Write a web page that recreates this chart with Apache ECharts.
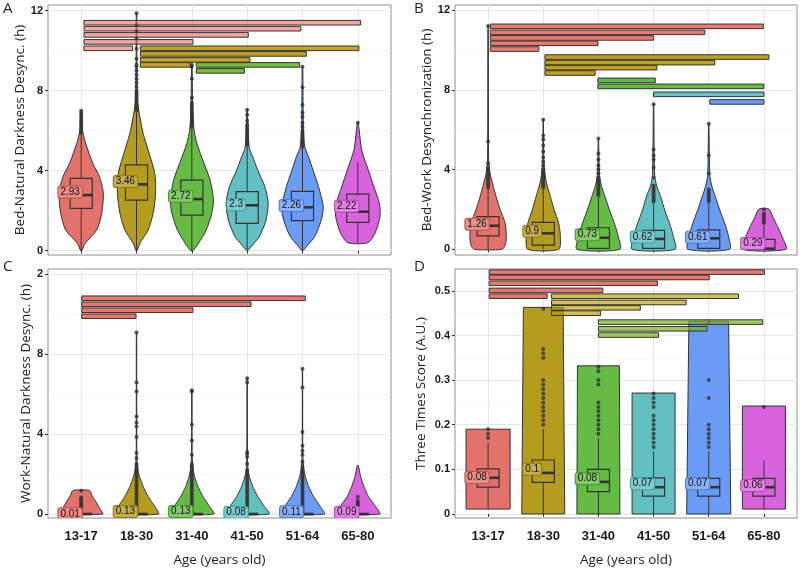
<!DOCTYPE html>
<html>
<head>
<meta charset="utf-8">
<script src="https://cdn.jsdelivr.net/npm/echarts@6.0.0/dist/echarts.min.js"></script>
<style>
html, body { margin: 0; padding: 0; background: #fff; }
#chart { width: 800px; height: 573px; }
</style>
</head>
<body>
<div id="chart"></div>
<script>
const ages = ['13-17', '18-30', '31-40', '41-50', '51-64', '65-80']

// y ticks
const yTicks = [0, 4, 8, 12]
const yMinor = [2, 6, 10]
const yTickLabelsA = ['0', '4', '8', '12']
const yTickLabelsC = ['0', '4', '8', '2']
const yTicksD = [0, 0.1, 0.2, 0.3, 0.4, 0.5]
const yMinorD = [0.05, 0.15, 0.25, 0.35, 0.45]
const yTickLabelsD = ['0', '0.1', '0.2', '0.3', '0.4', '0.5']

// ---- A: Bed-Natural Darkness ----
const meanA = [2.93, 3.46, 2.72, 2.3, 2.26, 2.22]
// lower whisker, q1, median, q3, upper whisker
const boxA = [
  [0, 2.12, 2.78, 3.62, 5.87],
  [0, 2.53, 3.32, 4.29, 6.9],
  [0, 1.78, 2.58, 3.53, 6.15],
  [0, 1.37, 2.27, 2.95, 5.3],
  [0, 1.5, 2.17, 2.97, 5.2],
  [0.37, 1.42, 1.95, 2.83, 4.42]
]
const outA = [
  [5.9, 6.0, 6.1, 6.2, 6.3, 6.4, 6.5, 6.6, 6.7, 6.8, 6.9, 7.0],
  [7.0, 7.1, 7.2, 7.3, 7.4, 7.5, 7.6, 7.7, 7.8, 7.9, 8.0, 8.2, 8.4, 8.6, 8.8, 9.0, 9.2, 9.3, 9.6, 10.1, 10.6, 11.0, 11.3, 11.87],
  [6.2, 6.3, 6.4, 6.5, 6.6, 6.7, 6.8, 6.9, 7.0, 7.1, 7.2, 7.3, 7.4, 7.65, 8.6, 9.2, 9.3],
  [5.3, 5.4, 5.5, 5.6, 5.7, 5.8, 5.9, 6.0, 6.1, 6.2, 6.3, 6.5, 6.8, 7.05],
  [5.2, 5.3, 5.4, 5.5, 5.6, 5.7, 5.8, 5.9, 6.0, 6.2, 6.4, 6.7, 6.9, 7.3, 8.17, 9.2],
  [6.4]
]
// violin outline: [value, half width]
const violinA = [
  [[0, 0.01], [0.37, 0.07], [1.03, 0.28], [1.87, 0.37], [2.87, 0.4], [3.7, 0.33], [4.37, 0.21], [5.37, 0.08], [6.0, 0.025], [7.0, 0.006]],
  [[0, 0.01], [0.37, 0.06], [1.03, 0.21], [1.87, 0.3], [2.87, 0.345], [3.87, 0.33], [5.03, 0.21], [5.87, 0.12], [6.87, 0.05], [7.5, 0.02], [9, 0.008], [11.87, 0.004]],
  [[0, 0.02], [0.37, 0.12], [1.03, 0.26], [1.87, 0.36], [2.53, 0.39], [3.53, 0.33], [4.37, 0.22], [5.37, 0.09], [6.03, 0.04], [7, 0.015], [9.3, 0.005]],
  [[0, 0.01], [0.3, 0.1], [0.7, 0.22], [1.53, 0.34], [2.37, 0.38], [3.2, 0.32], [4.03, 0.19], [4.7, 0.1], [5.12, 0.04], [6, 0.015], [7.05, 0.005]],
  [[0, 0.01], [0.3, 0.1], [0.7, 0.22], [1.53, 0.34], [2.2, 0.375], [3.2, 0.29], [4.03, 0.19], [4.7, 0.11], [5.2, 0.04], [6.2, 0.015], [9.2, 0.005]],
  [[0.4, 0.18], [0.87, 0.31], [1.7, 0.4], [2.37, 0.39], [3.2, 0.29], [4.03, 0.19], [5.03, 0.07], [6.03, 0.025], [6.4, 0.005]]
]
// significance bars: [from, to, value, group]
const sigA = [
  [1.05, 6.05, 11.4, 0], [1.05, 4.97, 11.1, 0], [1.05, 4.02, 10.79, 0], [1.05, 3.02, 10.44, 0], [1.05, 1.93, 10.12, 0],
  [2.07, 6.02, 10.12, 1], [2.07, 5.07, 9.84, 1], [2.07, 4.05, 9.54, 1], [2.07, 2.97, 9.29, 1],
  [3.08, 4.95, 9.29, 2], [3.08, 3.95, 8.99, 2]
]

// ---- B: Bed-Work ----
const meanB = [1.26, 0.9, 0.73, 0.62, 0.61, 0.29]
const boxB = [
  [0, 0.67, 1.18, 1.64, 3.05],
  [0, 0.21, 0.8, 1.35, 3.0],
  [0, 0.05, 0.58, 1.08, 2.6],
  [0, 0.05, 0.52, 0.95, 2.3],
  [0, 0.05, 0.55, 0.97, 2.3],
  [0, 0, 0.03, 0.5, 1.2]
]
const outB = [
  [3.1, 3.2, 3.3, 3.4, 3.5, 3.6, 3.7, 3.8, 3.9, 4.0, 4.1, 4.3, 5.4, 11.2],
  [3.1, 3.2, 3.3, 3.4, 3.5, 3.6, 3.7, 3.8, 3.9, 4.0, 4.2, 4.4, 4.6, 4.9, 5.2, 5.5, 5.7, 6.5],
  [2.7, 2.8, 2.9, 3.0, 3.1, 3.2, 3.3, 3.4, 3.5, 3.6, 3.8, 4.0, 4.2, 4.5, 4.8, 5.55],
  [2.4, 2.5, 2.6, 2.7, 2.8, 2.9, 3.0, 3.1, 3.2, 3.6, 4.1, 4.5, 4.7, 5.0, 7.27],
  [2.4, 2.5, 2.6, 2.7, 2.8, 2.9, 3.0, 3.8, 4.7, 6.3],
  [1.3, 1.4, 1.5, 1.6, 1.7, 1.8, 2.0]
]
const violinB = [
  [[0, 0.25], [0.2, 0.31], [0.63, 0.33], [1.3, 0.31], [1.97, 0.22], [2.64, 0.145], [3.31, 0.08], [3.81, 0.036], [4.5, 0.01], [11.2, 0.003]],
  [[0, 0.28], [0.63, 0.31], [1.3, 0.28], [1.97, 0.2], [2.64, 0.13], [3.31, 0.06], [3.81, 0.03], [4.5, 0.01], [6.5, 0.003]],
  [[0, 0.39], [0.63, 0.36], [1.3, 0.29], [1.97, 0.2], [2.64, 0.12], [3.14, 0.06], [3.7, 0.02], [5.5, 0.003]],
  [[0, 0.39], [0.63, 0.36], [1.3, 0.29], [1.97, 0.2], [2.64, 0.13], [3.14, 0.06], [3.7, 0.02], [7.25, 0.003]],
  [[0, 0.38], [0.63, 0.36], [1.3, 0.29], [1.97, 0.2], [2.64, 0.12], [3.14, 0.06], [3.7, 0.02], [6.3, 0.003]],
  [[0, 0.4], [0.63, 0.33], [1.13, 0.25], [1.63, 0.16], [2.02, 0.09]]
]
const sigB = [
  [1.04, 5.99, 11.18, 0], [1.04, 4.93, 10.88, 0], [1.04, 4.0, 10.6, 0], [1.04, 2.99, 10.33, 0], [1.04, 1.92, 10.04, 0],
  [2.03, 6.09, 9.64, 1], [2.03, 5.11, 9.36, 1], [2.03, 4.06, 9.11, 1], [2.03, 2.94, 8.84, 1],
  [2.99, 4.03, 8.47, 2], [2.99, 6.0, 8.17, 2],
  [4.0, 6.0, 7.77, 3],
  [5.02, 6.0, 7.39, 4]
]

// ---- C: Work-Natural Darkness ----
const meanC = [0.01, 0.13, 0.13, 0.08, 0.11, 0.09]
const boxC = [
  [0, 0, 0, 0, 0], [0, 0, 0, 0, 0], [0, 0, 0, 0, 0],
  [0, 0, 0, 0, 0], [0, 0, 0, 0, 0], [0, 0, 0, 0, 0]
]
const outC = [
  [0.25, 0.33, 0.42, 0.5, 0.58, 0.67, 0.75, 0.83, 1.17],
  [0.1, 0.2, 0.3, 0.4, 0.5, 0.6, 0.7, 0.8, 0.9, 1.0, 1.1, 1.2, 1.3, 1.4, 1.5, 1.6, 1.7, 1.8, 1.9, 2.0, 2.1, 2.2, 2.3, 2.4, 2.5, 2.8, 3.05, 3.85, 4.38, 4.58, 4.88, 6.13, 6.58, 9.08],
  [0.1, 0.2, 0.3, 0.4, 0.5, 0.6, 0.7, 0.8, 0.9, 1.0, 1.1, 1.2, 1.3, 1.4, 1.5, 1.6, 1.7, 1.8, 1.9, 2.0, 2.1, 2.2, 2.3, 2.4, 2.5, 2.97, 3.68, 4.47, 6.13, 6.2],
  [0.1, 0.2, 0.3, 0.4, 0.5, 0.6, 0.7, 0.8, 0.9, 1.0, 1.1, 1.2, 1.3, 1.4, 1.5, 1.6, 1.7, 1.8, 1.9, 2.0, 2.1, 2.2, 2.5, 2.85, 3.0, 3.1, 6.58, 6.8],
  [0.1, 0.2, 0.3, 0.4, 0.5, 0.6, 0.7, 0.8, 0.9, 1.0, 1.1, 1.2, 1.3, 1.4, 1.5, 1.6, 1.7, 1.8, 1.9, 2.0, 2.1, 2.2, 2.3, 2.4, 2.6, 2.97, 3.17, 3.42, 4.1, 6.33, 7.27],
  [0.42, 0.5, 0.58, 0.67, 0.87]
]
const violinC = [
  [[0, 0.39], [0.3, 0.33], [0.55, 0.28], [0.9, 0.2], [1.18, 0.15]],
  [[0, 0.4], [0.38, 0.33], [0.88, 0.21], [1.38, 0.12], [1.88, 0.055], [2.3, 0.02], [3, 0.005], [9.08, 0.003]],
  [[0, 0.4], [0.38, 0.32], [0.88, 0.2], [1.38, 0.11], [1.88, 0.05], [2.3, 0.02], [3, 0.005], [6.2, 0.003]],
  [[0, 0.4], [0.38, 0.31], [0.88, 0.19], [1.38, 0.1], [1.88, 0.04], [2.2, 0.015], [3, 0.005], [6.8, 0.003]],
  [[0, 0.4], [0.38, 0.32], [0.88, 0.2], [1.38, 0.11], [1.88, 0.05], [2.3, 0.02], [3, 0.005], [7.27, 0.003]],
  [[0, 0.4], [0.38, 0.32], [0.88, 0.19], [1.38, 0.11], [1.88, 0.05], [2.43, 0.01]]
]
const sigC = [
  [1.01, 5.05, 10.8, 0], [1.01, 4.07, 10.5, 0], [1.01, 3.02, 10.2, 0], [1.01, 1.99, 9.9, 0]
]

// ---- D: Three Times Score ----
const meanD = [0.082, 0.1, 0.079, 0.068, 0.068, 0.064]
const boxD = [
  [0.01, 0.06, 0.081, 0.101, 0.16],
  [0, 0.071, 0.092, 0.121, 0.19],
  [0, 0.05, 0.072, 0.1, 0.17],
  [0, 0.04, 0.06, 0.081, 0.14],
  [0, 0.04, 0.06, 0.08, 0.14],
  [0.01, 0.04, 0.06, 0.08, 0.12]
]
const outD = [
  [0.17, 0.18, 0.19],
  [0.2, 0.21, 0.22, 0.23, 0.24, 0.25, 0.26, 0.27, 0.28, 0.29, 0.3, 0.35, 0.36, 0.37, 0.46],
  [0.18, 0.19, 0.2, 0.21, 0.22, 0.23, 0.24, 0.25, 0.29, 0.3, 0.32, 0.33],
  [0.15, 0.16, 0.17, 0.18, 0.19, 0.2, 0.21, 0.22, 0.24, 0.25, 0.26, 0.27],
  [0.15, 0.16, 0.17, 0.18, 0.19, 0.2, 0.26, 0.3, 0.43],
  [0.24]
]
const violinD = [
  [[0.011, 0.4], [0.19, 0.4]],
  [[0, 0.39], [0.463, 0.36]],
  [[0, 0.39], [0.332, 0.38]],
  [[0, 0.39], [0.271, 0.39]],
  [[0, 0.4], [0.432, 0.36]],
  [[0.011, 0.39], [0.242, 0.39]]
]
const sigD = [
  [1.02, 6.01, 0.542, 0], [1.02, 5.01, 0.53, 0], [1.02, 4.07, 0.517, 0], [1.02, 3.08, 0.501, 0], [1.02, 2.07, 0.488, 0],
  [2.15, 5.54, 0.488, 1], [2.15, 4.59, 0.474, 1], [2.15, 3.76, 0.462, 1], [2.15, 3.04, 0.45, 1],
  [3.0, 5.98, 0.43, 2], [3.0, 4.97, 0.415, 2], [3.0, 4.09, 0.401, 2]
]

// ---- styles ----
const palette = ['#E3736A', '#B49C1E', '#66BB45', '#62BFC2', '#6B9CF5', '#D863DC']
const labelFill = ['#EA8D86', '#C4AE4A', '#84C86A', '#80CBCD', '#88B0F7', '#E083E3']
const labelBorder = ['#B8564F', '#8E7A10', '#3E9A2A', '#3A9EA2', '#4A7BD6', '#B048B4']
const sigFillA = ['rgba(232,110,100,0.6)', '#C2A527', '#74BE3A']
const sigFillB = ['#EA7A70', '#BFA020', '#62BB45', '#64C2C8', '#6A9DF7']
const sigFillC = ['#E8776E']
const sigFillD = ['#E8776E', 'rgba(183,159,0,0.65)', 'rgba(120,180,30,0.7)']
const dark = '#333'
const tickFont = 'Liberation Sans, Arial, sans-serif'
const titleFont = 'Open Sans, sans-serif'

const panels = [
  { letter: 'A', grid: { left: 48, top: 5, width: 343, height: 250 }, yMin: -0.215, yMax: 12.285,
    ticks: yTicks, minor: yMinor, tickLabels: yTickLabelsA, yName: 'Bed-Natural Darkness Desync. (h)', nameGap: 10,
    mean: meanA, box: boxA, out: outA, violin: violinA, smooth: 0.25, sig: sigA, sigFill: sigFillA, xLabels: false, letterPos: [3, 1] },
  { letter: 'B', grid: { left: 455, top: 5, width: 342, height: 250 }, yMin: -0.286, yMax: 12.25,
    ticks: yTicks, minor: yMinor, tickLabels: yTickLabelsA, yName: 'Bed-Work Desynchronization (h)', nameGap: 20,
    mean: meanB, box: boxB, out: outB, violin: violinB, smooth: 0.25, sig: sigB, sigFill: sigFillB, xLabels: false, letterPos: [414, 1] },
  { letter: 'C', grid: { left: 48, top: 269, width: 343, height: 249 }, yMin: -0.2, yMax: 12.265,
    ticks: yTicks, minor: yMinor, tickLabels: yTickLabelsC, yName: 'Work-Natural Darkness Desync. (h)', nameGap: 10,
    mean: meanC, box: boxC, out: outC, violin: violinC, smooth: 0.2, sig: sigC, sigFill: sigFillC, xLabels: true, letterPos: [3, 259] },
  { letter: 'D', grid: { left: 455, top: 269, width: 342, height: 249 }, yMin: -0.009, yMax: 0.549,
    ticks: yTicksD, minor: yMinorD, tickLabels: yTickLabelsD, yName: 'Three Times Score (A.U.)', nameGap: 27,
    mean: meanD, box: boxD, out: outD, violin: violinD, smooth: 0, sig: sigD, sigFill: sigFillD, xLabels: true, letterPos: [414, 259] }
]

const catPos = ages.map((a, k) => k + 1)
const fmt = v => String(Number(v.toFixed(2)))

const grids = []
const xAxes = []
const yAxes = []
const series = []
const graphics = []

panels.forEach((p, i) => {
  grids.push(Object.assign({ show: true, borderColor: '#8f8f8f', borderWidth: 1, outerBoundsMode: 'none' }, p.grid))
  xAxes.push({
    gridIndex: i,
    type: 'value',
    min: 0.4,
    max: 6.6,
    axisLine: { show: false },
    axisTick: { show: true, length: 3, customValues: catPos, lineStyle: { color: dark } },
    axisLabel: {
      show: p.xLabels,
      customValues: catPos,
      formatter: v => ages[Math.round(v) - 1],
      fontFamily: tickFont,
      fontSize: 13,
      fontWeight: 'bold',
      color: '#1a1a1a',
      margin: 12
    },
    splitLine: { show: true, lineStyle: { color: '#E6E6E6', width: 1 } },
    name: p.xLabels ? 'Age (years old)' : '',
    nameLocation: 'middle',
    nameGap: 35,
    nameTextStyle: { fontFamily: titleFont, fontSize: 13.5, color: '#222' }
  })
  yAxes.push({
    gridIndex: i,
    type: 'value',
    min: p.yMin,
    max: p.yMax,
    axisLine: { show: false },
    axisTick: { show: true, length: 3, customValues: p.ticks, lineStyle: { color: dark } },
    axisLabel: {
      customValues: p.ticks,
      formatter: v => p.tickLabels[p.ticks.findIndex(t => Math.abs(t - v) < 1e-9)],
      fontFamily: tickFont,
      fontSize: 11,
      fontWeight: 'bold',
      color: '#1a1a1a',
      margin: 5
    },
    splitLine: { show: true, lineStyle: { color: '#E6E6E6', width: 1 } },
    name: p.yName,
    nameLocation: 'middle',
    nameGap: p.nameGap,
    nameTextStyle: { fontFamily: titleFont, fontSize: 13.5, color: '#222' }
  })
  // minor grid lines
  yAxes.push({
    gridIndex: i,
    type: 'value',
    position: 'left',
    min: p.yMin,
    max: p.yMax,
    axisLine: { show: false },
    axisTick: { show: false, customValues: p.minor },
    axisLabel: { show: false, customValues: p.minor },
    splitLine: { show: true, lineStyle: { color: '#F3F3F3', width: 0.6 } }
  })

  const yIdx = 2 * i
  const groups = ages.map((a, k) => [k + 1])

  // violins
  series.push({
    type: 'custom',
    xAxisIndex: i,
    yAxisIndex: yIdx,
    silent: true,
    clip: true,
    z: 2,
    data: groups,
    renderItem: (params, api) => {
      const k = params.dataIndex
      const prof = p.violin[k]
      const left = prof.map(d => api.coord([k + 1 - d[1], d[0]]))
      const right = prof.slice().reverse().map(d => api.coord([k + 1 + d[1], d[0]]))
      return {
        type: 'polygon',
        shape: { points: left.concat(right), smooth: p.smooth },
        style: { fill: palette[k], stroke: dark, lineWidth: 1 }
      }
    }
  })

  // boxplots
  series.push({
    type: 'custom',
    xAxisIndex: i,
    yAxisIndex: yIdx,
    silent: true,
    clip: true,
    z: 3,
    data: groups,
    renderItem: (params, api) => {
      const k = params.dataIndex
      const b = p.box[k]
      const x = k + 1
      const lo = api.coord([x, b[0]])
      const q1 = api.coord([x, b[1]])
      const q3 = api.coord([x, b[3]])
      const hi = api.coord([x, b[4]])
      const tl = api.coord([x - 0.2, b[3]])
      const br = api.coord([x + 0.2, b[1]])
      const ml = api.coord([x - 0.2, b[2]])
      const mr = api.coord([x + 0.2, b[2]])
      return {
        type: 'group',
        children: [
          { type: 'line', shape: { x1: lo[0], y1: lo[1], x2: q1[0], y2: q1[1] }, style: { stroke: dark, lineWidth: 1 } },
          { type: 'line', shape: { x1: q3[0], y1: q3[1], x2: hi[0], y2: hi[1] }, style: { stroke: dark, lineWidth: 1 } },
          { type: 'rect', shape: { x: tl[0], y: tl[1], width: br[0] - tl[0], height: br[1] - tl[1] }, style: { fill: 'none', stroke: dark, lineWidth: 1.2 } },
          { type: 'line', shape: { x1: ml[0], y1: ml[1], x2: mr[0], y2: mr[1] }, style: { stroke: dark, lineWidth: 2.6 } }
        ]
      }
    }
  })

  // outliers
  series.push({
    type: 'scatter',
    xAxisIndex: i,
    yAxisIndex: yIdx,
    silent: true,
    z: 4,
    symbolSize: 4,
    itemStyle: { color: dark },
    data: p.out.flatMap((arr, k) => arr.map(v => [k + 1, v]))
  })

  // mean labels
  series.push({
    type: 'custom',
    xAxisIndex: i,
    yAxisIndex: yIdx,
    silent: true,
    clip: true,
    z: 5,
    data: groups,
    renderItem: (params, api) => {
      const k = params.dataIndex
      const c = api.coord([k + 1 - 0.2, p.mean[k]])
      return {
        type: 'text',
        x: c[0],
        y: c[1],
        style: {
          text: fmt(p.mean[k]),
          align: 'center',
          verticalAlign: 'middle',
          fontFamily: tickFont,
          fontSize: 10,
          fill: '#111',
          backgroundColor: labelFill[k],
          borderColor: labelBorder[k],
          borderWidth: 1,
          borderRadius: 2,
          padding: [1, 2, 0, 2]
        }
      }
    }
  })

  // significance bars
  series.push({
    type: 'custom',
    xAxisIndex: i,
    yAxisIndex: yIdx,
    silent: true,
    z: 6,
    data: p.sig.map(s => [s[0], s[2]]),
    renderItem: (params, api) => {
      const s = p.sig[params.dataIndex]
      const a = api.coord([s[0], s[2]])
      const b = api.coord([s[1], s[2]])
      return {
        type: 'rect',
        shape: { x: a[0], y: a[1] - 2.3, width: b[0] - a[0], height: 4.6 },
        style: { fill: p.sigFill[s[3]], stroke: dark, lineWidth: 1 }
      }
    }
  })

  graphics.push({
    type: 'text',
    left: p.letterPos[0],
    top: p.letterPos[1],
    style: { text: p.letter, fontFamily: titleFont, fontSize: 15, fill: '#222' }
  })
})

const chart = echarts.init(document.getElementById('chart'), null, { renderer: 'canvas' })
chart.setOption({
  animation: false,
  backgroundColor: '#fff',
  grid: grids,
  xAxis: xAxes,
  yAxis: yAxes,
  series: series,
  graphic: graphics
})
</script>
</body>
</html>
